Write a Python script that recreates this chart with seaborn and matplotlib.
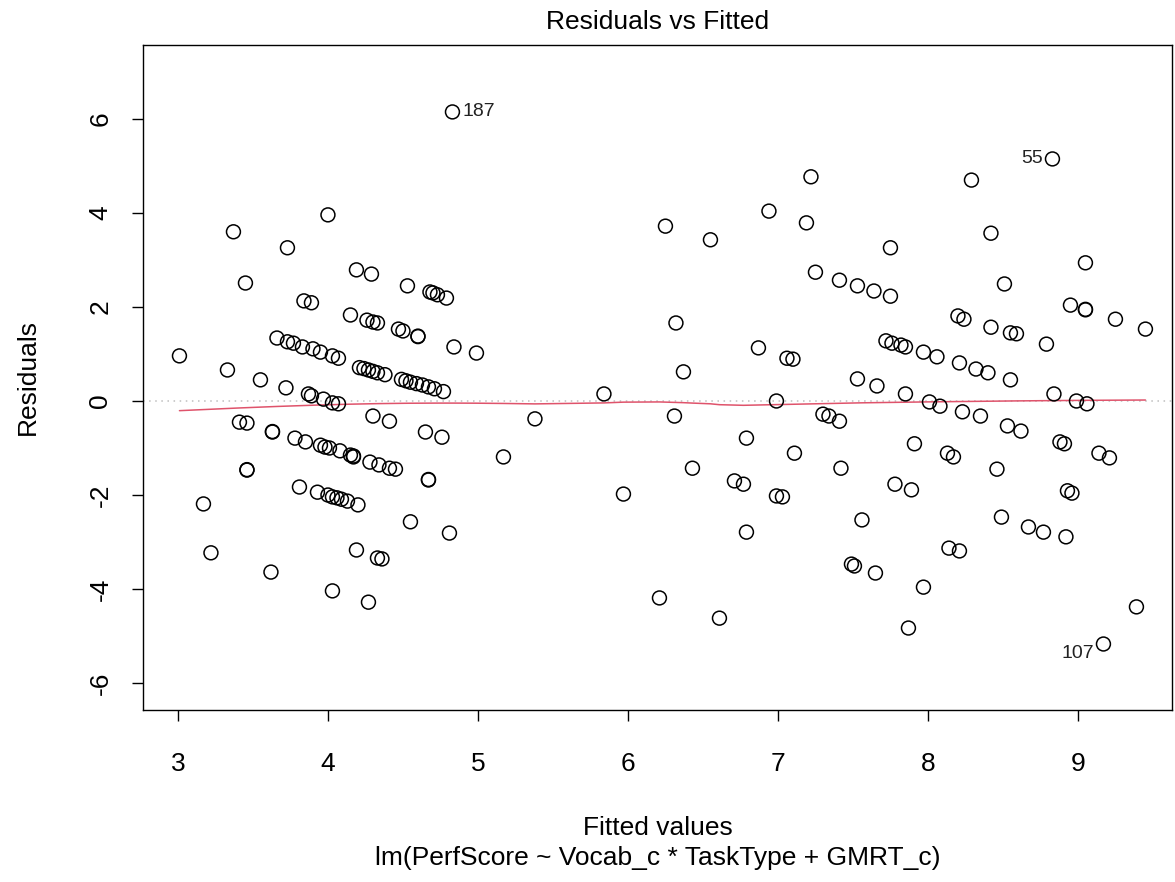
import numpy as np
import pandas as pd
import matplotlib
matplotlib.use("Agg")
import matplotlib.pyplot as plt
import seaborn as sns

# ---- data ----
fitted = [
    3.01, 3.17, 3.22, 3.33, 3.37, 3.41, 3.46, 3.45, 3.46, 3.46, 3.55, 3.62, 3.63, 3.63,
    3.66, 3.73, 3.72, 3.73, 3.77, 3.78, 3.81, 3.83, 3.84, 3.85, 3.87, 3.89, 3.89, 3.90,
    3.93, 3.95, 3.95, 3.97, 3.98, 4.00, 4.00, 4.01, 4.03, 4.03, 4.03, 4.03, 4.06, 4.07,
    4.07, 4.08, 4.09, 4.13, 4.15, 4.15, 4.17, 4.17, 4.19, 4.19, 4.20, 4.26, 4.27, 4.28,
    4.29, 4.30, 4.30, 4.33, 4.33, 4.34, 4.36, 4.41, 4.41, 4.45, 4.47, 4.50, 4.53, 4.55,
    4.60, 4.60, 4.65, 4.67, 4.67, 4.68, 4.70, 4.73, 4.76, 4.79, 4.81, 4.83, 4.84, 4.99,
    5.17, 5.38,
    4.21, 4.24, 4.27, 4.30, 4.33, 4.38, 4.49, 4.52, 4.55, 4.59, 4.63, 4.67, 4.71, 4.77,
    5.84, 5.97, 6.21, 6.25, 6.31, 6.32, 6.37, 6.43, 6.55, 6.61, 6.71, 6.77, 6.79, 6.79,
    6.87, 6.94, 6.99, 6.99, 7.03, 7.06, 7.10, 7.11, 7.19, 7.22, 7.25, 7.30, 7.34, 7.41,
    7.41, 7.42, 7.49, 7.51, 7.53, 7.53, 7.56, 7.64, 7.65, 7.66, 7.72, 7.75, 7.75, 7.76,
    7.78, 7.82, 7.85, 7.85, 7.87, 7.89, 7.91, 7.97, 7.97, 8.01, 8.06, 8.08, 8.13, 8.14,
    8.17, 8.20, 8.21, 8.21, 8.23, 8.24, 8.29, 8.32, 8.35, 8.40, 8.42, 8.42, 8.46, 8.49,
    8.51, 8.53, 8.55, 8.59, 8.55, 8.62, 8.67, 8.77, 8.79, 8.83, 8.84, 8.88, 8.91, 8.92,
    8.93, 8.96, 8.95, 8.99, 9.05, 9.05, 9.05, 9.06, 9.14, 9.17, 9.21, 9.25, 9.39, 9.45,
]
residuals = [
    0.96, -2.19, -3.23, 0.66, 3.60, -0.45, -0.47, 2.51, -1.46, -1.47, 0.45, -3.64, -0.65, -0.66,
    1.34, 3.26, 0.28, 1.26, 1.23, -0.79, -1.83, 1.15, 2.13, -0.87, 0.15, 2.09, 0.11, 1.11,
    -1.94, -0.94, 1.04, 0.04, -0.98, 3.96, -2.00, -1.00, -2.04, -4.04, 0.96, -0.04, -2.06, -0.06,
    0.91, -1.06, -2.09, -2.13, 1.83, -1.15, -1.17, -1.19, 2.79, -3.17, -2.21, 1.72, -4.28, -1.30,
    2.70, -0.32, 1.68, 1.66, -3.34, -1.36, -3.36, -0.43, -1.43, -1.45, 1.53, 1.49, 2.45, -2.57,
    1.38, 1.37, -0.66, -1.67, -1.68, 2.32, 2.30, 2.26, -0.77, 2.19, -2.81, 6.15, 1.15, 1.02,
    -1.19, -0.38,
    0.71, 0.69, 0.66, 0.63, 0.60, 0.56, 0.46, 0.43, 0.40, 0.37, 0.34, 0.30, 0.26, 0.20,
    0.15, -1.98, -4.19, 3.72, -0.32, 1.66, 0.62, -1.43, 3.43, -4.62, -1.70, -1.77, -0.79, -2.79,
    1.13, 4.04, 0.00, -2.02, -2.04, 0.91, 0.89, -1.11, 3.79, 4.77, 2.74, -0.28, -0.32, -0.43,
    2.57, -1.43, -3.47, -3.51, 2.45, 0.47, -2.53, 2.34, -3.66, 0.32, 1.28, 3.26, 2.23, 1.23,
    -1.77, 1.19, 1.15, 0.15, -4.83, -1.89, -0.91, 1.04, -3.96, -0.02, 0.94, -0.11, -1.11, -3.13,
    -1.19, 1.81, -3.19, 0.81, -0.23, 1.74, 4.70, 0.68, -0.32, 0.60, 3.57, 1.57, -1.45, -2.47,
    2.49, -0.53, 1.45, 1.43, 0.45, -0.64, -2.68, -2.79, 1.21, 5.15, 0.15, -0.87, -0.91, -2.89,
    -1.91, -1.96, 2.04, 0.00, 2.94, 1.94, 1.95, -0.06, -1.11, -5.17, -1.21, 1.74, -4.38, 1.53,
]
labelled_ids = ["187", "55", "107"]
labelled_fit = [4.83, 8.83, 9.17]
labelled_res = [6.15, 5.15, -5.17]

x_ticks = [3, 4, 5, 6, 7, 8, 9]
y_ticks = [-6, -4, -2, 0, 2, 4, 6]

title = "Residuals vs Fitted"
xlabel = "Fitted values"
ylabel = "Residuals"
subtitle = "lm(PerfScore ~ Vocab_c * TaskType + GMRT_c)"


def lowess(x, y, f=2 / 3, iters=3):
    x = np.asarray(x, float)
    y = np.asarray(y, float)
    o = np.argsort(x, kind="mergesort")
    x, y = x[o], y[o]
    n = len(x)
    r = max(min(int(round(f * n)), n), 2)
    delta = np.ones(n)
    yest = np.zeros(n)
    for it in range(iters + 1):
        for i in range(n):
            d = np.abs(x - x[i])
            h = np.sort(d)[r - 1]
            w = np.clip(d / max(h, 1e-12), 0, 1)
            w = (1 - w ** 3) ** 3 * delta
            sw = w.sum()
            xm = (w * x).sum() / sw
            ym = (w * y).sum() / sw
            sxx = (w * (x - xm) ** 2).sum()
            if sxx > 1e-12:
                b = (w * (x - xm) * (y - ym)).sum() / sxx
            else:
                b = 0.0
            yest[i] = ym + b * (x[i] - xm)
        res = y - yest
        s = np.median(np.abs(res))
        u = np.clip(res / (6 * s), -1, 1)
        delta = (1 - u ** 2) ** 2
    return x, yest


sns.set_theme(style="white")
plt.rcParams["font.family"] = ["Liberation Sans", "DejaVu Sans"]

W, H = 1175, 882
fig = plt.figure(figsize=(W / 100, H / 100), dpi=100)
L, R, T, B = 143, 1172, 45, 710
ax = fig.add_axes([L / W, (H - B) / H, (R - L) / W, (B - T) / H])

df = pd.DataFrame({"fitted": fitted, "residuals": residuals})

ax.axhline(0, color="#BEBEBE", lw=1.1, linestyle=(0, (1, 3)), zorder=1)

sx, sy = lowess(df["fitted"], df["residuals"])
sns.lineplot(x=sx, y=sy, ax=ax, color="#DF536B", lw=1.1, sort=False,
             estimator=None, zorder=2)

sns.scatterplot(data=df, x="fitted", y="residuals", ax=ax, s=100, marker="o",
                facecolor="none", edgecolor="black", linewidth=1.1, zorder=3)

offsets = [(7, 0, "left", "center"), (-7, 0, "right", "center"), (-7, -7, "right", "center")]
for lab, fx, ry, (dx, dy, ha, va) in zip(labelled_ids, labelled_fit, labelled_res, offsets):
    ax.annotate(lab, (fx, ry), xytext=(dx, dy), textcoords="offset points",
                ha=ha, va=va, fontsize=14, color="#222222")

ax.set_xlim(2.767, 9.627)
ax.set_ylim(-6.574, 7.574)
ax.set_xticks(x_ticks)
ax.set_yticks(y_ticks)
ax.set_xticklabels([str(v) for v in x_ticks])
ax.set_yticklabels([str(v) for v in y_ticks])
ax.tick_params(axis="both", direction="out", length=8, width=1, color="black",
               labelsize=19, labelcolor="black", bottom=True, left=True)
ax.tick_params(axis="x", pad=22)
ax.tick_params(axis="y", pad=14, labelrotation=90)
for lbl in ax.get_yticklabels():
    lbl.set_va("center")
for sp in ax.spines.values():
    sp.set_visible(True)
    sp.set_color("black")
    sp.set_linewidth(1)
ax.set_xlabel("")
ax.set_ylabel("")

cx = (L + R) / 2 / W
fig.text(cx, 1 - 22 / H, title, ha="center", va="center", fontsize=19, color="black")
fig.text(cx, 1 - 828 / H, xlabel, ha="center", va="center", fontsize=19, color="black")
fig.text(cx, 1 - 858 / H, subtitle, ha="center", va="center", fontsize=19, color="black")
fig.text(28 / W, 1 - ((T + B) / 2) / H, ylabel, ha="center", va="center",
         rotation=90, fontsize=19, color="black")

fig.savefig("out.png", dpi=100, facecolor="white")
